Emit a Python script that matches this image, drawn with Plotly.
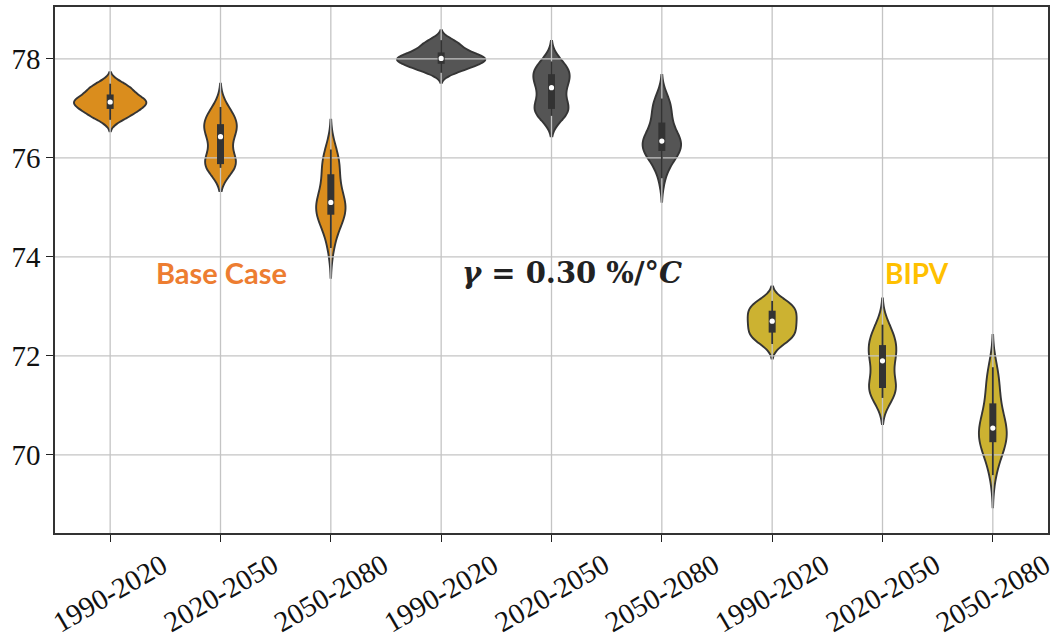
import numpy as np
import plotly.graph_objects as go

# ---------------- data ----------------
TICK_LABELS = ["1990-2020", "2020-2050", "2050-2080",
               "1990-2020", "2020-2050", "2050-2080",
               "1990-2020", "2020-2050", "2050-2080"]
Y_TICKS = [70, 72, 74, 76, 78]

base_1990_2020 = [76.77, 76.83, 76.88, 76.92, 76.96, 77.00, 77.04, 77.08, 77.11, 77.12,
                  77.14, 77.15, 77.18, 77.22, 77.27, 77.32, 77.37, 77.42, 77.46, 77.50]
base_2020_2050 = [75.80, 75.82, 75.84, 75.85, 75.86, 75.88, 75.95, 76.08, 76.22, 76.38,
                  76.48, 76.53, 76.57, 76.62, 76.67, 76.72, 76.78, 76.85, 76.93, 77.03]
base_2050_2080 = [74.18, 74.45, 74.65, 74.78, 74.83, 74.86, 74.92, 74.98, 75.03, 75.08,
                  75.12, 75.18, 75.30, 75.48, 75.65, 75.73, 75.85, 75.95, 76.06, 76.17]
gamma_1990_2020 = [77.72, 77.77, 77.82, 77.85, 77.88, 77.91, 77.94, 77.97, 77.99, 78.00,
                   78.02, 78.03, 78.05, 78.08, 78.12, 78.17, 78.22, 78.27, 78.33, 78.38]
gamma_2020_2050 = [76.85, 76.89, 76.92, 76.94, 76.96, 77.00, 77.08, 77.17, 77.28, 77.38,
                   77.46, 77.53, 77.58, 77.63, 77.68, 77.73, 77.78, 77.83, 77.89, 77.95]
gamma_2050_2080 = [75.59, 75.86, 75.99, 76.07, 76.11, 76.15, 76.20, 76.25, 76.30, 76.33,
                   76.35, 76.40, 76.47, 76.56, 76.68, 76.82, 76.94, 77.04, 77.12, 77.20]
bipv_1990_2020 = [72.24, 72.31, 72.36, 72.40, 72.44, 72.48, 72.53, 72.58, 72.63, 72.68,
                  72.72, 72.76, 72.80, 72.85, 72.90, 72.95, 72.99, 73.03, 73.07, 73.11]
bipv_2020_2050 = [71.15, 71.22, 71.27, 71.30, 71.32, 71.36, 71.42, 71.55, 71.72, 71.86,
                  71.94, 72.00, 72.06, 72.12, 72.20, 72.27, 72.35, 72.43, 72.52, 72.63]
bipv_2050_2080 = [69.59, 69.88, 70.05, 70.15, 70.21, 70.27, 70.34, 70.40, 70.46, 70.51,
                  70.57, 70.64, 70.73, 70.85, 71.00, 71.16, 71.32, 71.48, 71.63, 71.77]

SERIES = [base_1990_2020, base_2020_2050, base_2050_2080,
          gamma_1990_2020, gamma_2020_2050, gamma_2050_2080,
          bipv_1990_2020, bipv_2020_2050, bipv_2050_2080]

GROUP_TEXT = ["Base Case", "<i>γ</i> = 0.30 %/°<i>C</i>", "BIPV"]

# ---------------- style ----------------
FILL = ["#DA8D1D"] * 3 + ["#555555"] * 3 + ["#CCB231"] * 3
EDGE = "#353535"
INNER = "#333333"
GRID = "#C4C4C4"
MAX_WIDTH = 0.8


def scott_bw(v):
    return v.std(ddof=1) * len(v) ** (-0.2)


def kde_peak(v, bw):
    grid = np.linspace(v.min() - 2 * bw, v.max() + 2 * bw, 600)
    dens = np.exp(-0.5 * ((grid[:, None] - v[None, :]) / bw) ** 2).sum(axis=1)
    return (dens / (len(v) * bw * np.sqrt(2 * np.pi))).max()


arrays = [np.asarray(s, dtype=float) for s in SERIES]
bws = [scott_bw(v) for v in arrays]
peaks = [kde_peak(v, b) for v, b in zip(arrays, bws)]
top_peak = max(peaks)

fig = go.Figure()
shapes = []

# equal-area violins: width proportional to each KDE peak
for i, (v, bw, pk) in enumerate(zip(arrays, bws, peaks)):
    fig.add_trace(go.Violin(
        y=v, x0=i, name=TICK_LABELS[i], width=MAX_WIDTH * pk / top_peak,
        scalemode="width", spanmode="soft", bandwidth=bw,
        fillcolor=FILL[i], opacity=1, line=dict(color=EDGE, width=1.9),
        points=False, box_visible=False, meanline_visible=False,
        showlegend=False, hoverinfo="skip"))

# grid lines drawn over the violins (as in the reference)
for yt in Y_TICKS:
    shapes.append(dict(type="line", layer="above", xref="paper", yref="y",
                       x0=0, x1=1, y0=yt, y1=yt, line=dict(color=GRID, width=1.3)))
for i in range(len(TICK_LABELS)):
    shapes.append(dict(type="line", layer="above", xref="x", yref="paper",
                       x0=i, x1=i, y0=0, y1=1, line=dict(color=GRID, width=1.3)))

# inner box (whiskers, quartile box, median dot)
for i, v in enumerate(arrays):
    q1, med, q3 = np.percentile(v, [25, 50, 75])
    iqr = q3 - q1
    lo = v[v >= q1 - 1.5 * iqr].min()
    hi = v[v <= q3 + 1.5 * iqr].max()
    shapes.append(dict(type="line", layer="above", xref="x", yref="y",
                       x0=i, x1=i, y0=lo, y1=hi, line=dict(color=INNER, width=1.8)))
    shapes.append(dict(type="rect", layer="above", xref="x", yref="y",
                       xsizemode="pixel", xanchor=i, x0=-3.5, x1=3.5, y0=q1, y1=q3,
                       fillcolor=INNER, line=dict(width=0)))
    shapes.append(dict(type="circle", layer="above", xref="x", yref="y",
                       xsizemode="pixel", ysizemode="pixel", xanchor=i, yanchor=med,
                       x0=-2.6, x1=2.6, y0=-2.6, y1=2.6,
                       fillcolor="white", line=dict(width=0)))

annotations = []
for i, lab in enumerate(TICK_LABELS):
    annotations.append(dict(x=i, y=0, xref="x", yref="paper", text=lab, showarrow=False,
                            textangle=-30, xanchor="center", yanchor="middle", yshift=-60,
                            font=dict(family="Liberation Serif", size=29, color="#111111")))

annotations += [
    dict(x=1.01, y=73.68, xref="x", yref="y", text="<b>" + GROUP_TEXT[0] + "</b>",
         showarrow=False, font=dict(family="Lato", size=29, color="#ED7D31")),
    dict(x=4.19, y=73.68, xref="x", yref="y", text="<b>" + GROUP_TEXT[1] + "</b>",
         showarrow=False, font=dict(family="DejaVu Serif", size=29, color="#222222")),
    dict(x=7.31, y=73.68, xref="x", yref="y", text="<b>" + GROUP_TEXT[2] + "</b>",
         showarrow=False, font=dict(family="Lato", size=28, color="#FFC000")),
]

fig.update_layout(
    width=1056, height=639,
    margin=dict(l=55, r=8, t=5, b=106),
    paper_bgcolor="white", plot_bgcolor="white",
    violinmode="overlay",
    shapes=shapes, annotations=annotations,
    xaxis=dict(range=[-0.5, 8.5], tickvals=list(range(len(TICK_LABELS))),
               showticklabels=False, showgrid=False, zeroline=False,
               ticks="outside", ticklen=7, tickwidth=1.3, tickcolor="#222222",
               showline=True, linecolor="#333333", linewidth=1.6, mirror=True),
    yaxis=dict(range=[68.42, 79.05], tickvals=Y_TICKS, showgrid=False, zeroline=False,
               ticks="outside", ticklen=7, tickwidth=1.3, tickcolor="#222222",
               tickfont=dict(family="Liberation Serif", size=29, color="#111111"),
               showline=True, linecolor="#333333", linewidth=1.6, mirror=True),
)

fig.write_html("out.html")
